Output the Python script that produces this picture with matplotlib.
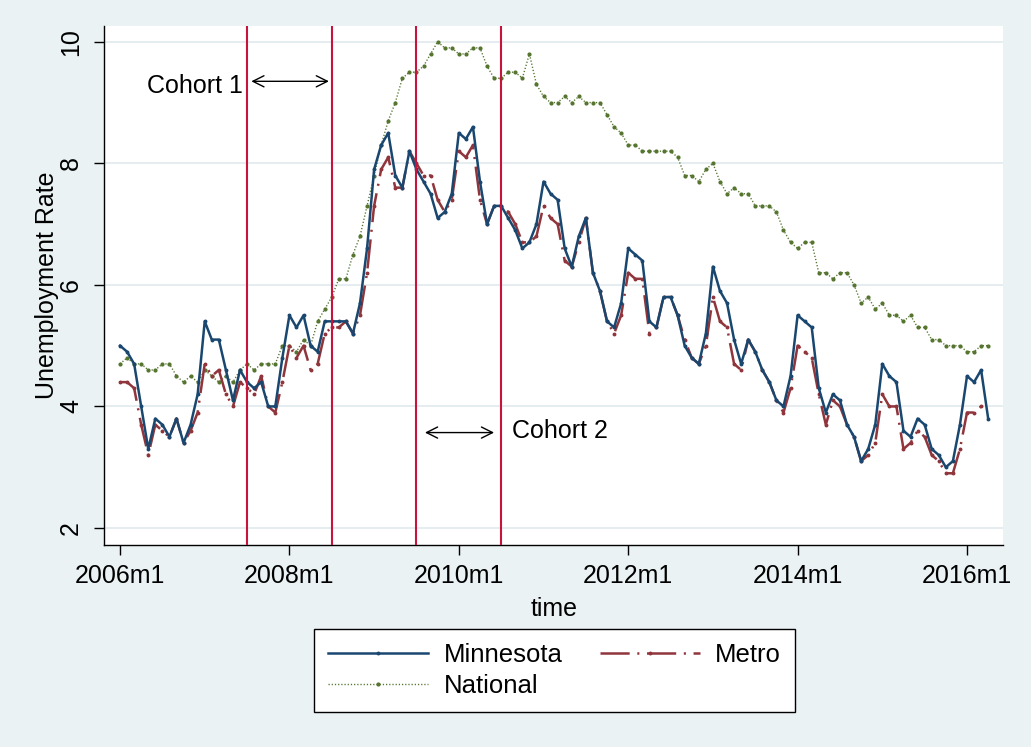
import numpy as np
import matplotlib
matplotlib.use("Agg")
import matplotlib.pyplot as plt
from matplotlib.lines import Line2D

# ---------------- data (monthly, starting 2006m1) ----------------
minnesota = [
    5.0, 4.9, 4.7, 4.0, 3.3, 3.8, 3.7, 3.5, 3.8, 3.4, 3.7, 4.2,
    5.4, 5.1, 5.1, 4.6, 4.1, 4.6, 4.4, 4.3, 4.4, 4.0, 4.0, 4.8,
    5.5, 5.3, 5.5, 5.0, 4.9, 5.4, 5.4, 5.4, 5.4, 5.2, 5.7, 6.6,
    7.9, 8.3, 8.5, 7.8, 7.6, 8.2, 7.9, 7.7, 7.5, 7.1, 7.2, 7.5,
    8.5, 8.4, 8.6, 7.7, 7.0, 7.3, 7.3, 7.1, 6.9, 6.6, 6.7, 7.0,
    7.7, 7.5, 7.4, 6.6, 6.3, 6.8, 7.1, 6.2, 5.9, 5.4, 5.3, 5.7,
    6.6, 6.5, 6.4, 5.4, 5.3, 5.8, 5.8, 5.5, 5.0, 4.8, 4.7, 5.2,
    6.3, 5.9, 5.7, 5.1, 4.7, 5.1, 4.9, 4.6, 4.4, 4.1, 4.0, 4.5,
    5.5, 5.4, 5.3, 4.3, 3.9, 4.2, 4.1, 3.7, 3.5, 3.1, 3.3, 3.7,
    4.7, 4.5, 4.4, 3.6, 3.5, 3.8, 3.7, 3.3, 3.2, 3.0, 3.1, 3.7,
    4.5, 4.4, 4.6, 3.8,
]
metro = [
    4.4, 4.4, 4.3, 3.7, 3.2, 3.7, 3.6, 3.5, 3.8, 3.4, 3.6, 3.9,
    4.7, 4.5, 4.6, 4.2, 4.0, 4.4, 4.3, 4.2, 4.5, 4.0, 3.9, 4.4,
    5.0, 4.8, 5.0, 4.6, 4.7, 5.2, 5.3, 5.3, 5.4, 5.2, 5.5, 6.2,
    7.3, 7.9, 8.1, 7.6, 7.6, 8.2, 8.0, 7.8, 7.8, 7.4, 7.2, 7.4,
    8.2, 8.1, 8.3, 7.4, 7.0, 7.3, 7.3, 7.2, 7.0, 6.7, 6.7, 6.8,
    7.3, 7.1, 7.0, 6.4, 6.3, 6.7, 7.1, 6.2, 5.9, 5.4, 5.2, 5.5,
    6.2, 6.1, 6.1, 5.2, 5.3, 5.8, 5.8, 5.5, 5.1, 4.8, 4.7, 5.0,
    5.8, 5.4, 5.3, 4.7, 4.6, 5.1, 4.9, 4.6, 4.4, 4.1, 3.9, 4.3,
    5.0, 4.9, 4.8, 4.2, 3.7, 4.1, 4.0, 3.7, 3.5, 3.1, 3.2, 3.4,
    4.2, 4.0, 4.0, 3.3, 3.4, 3.6, 3.5, 3.2, 3.1, 2.9, 2.9, 3.3,
    3.9, 3.9, 4.0, np.nan,
]
national = [
    4.7, 4.8, 4.7, 4.7, 4.6, 4.6, 4.7, 4.7, 4.5, 4.4, 4.5, 4.4,
    4.6, 4.5, 4.4, 4.5, 4.4, 4.6, 4.7, 4.6, 4.7, 4.7, 4.7, 5.0,
    5.0, 4.9, 5.1, 5.0, 5.4, 5.6, 5.8, 6.1, 6.1, 6.5, 6.8, 7.3,
    7.8, 8.3, 8.7, 9.0, 9.4, 9.5, 9.5, 9.6, 9.8, 10.0, 9.9, 9.9,
    9.8, 9.8, 9.9, 9.9, 9.6, 9.4, 9.4, 9.5, 9.5, 9.4, 9.8, 9.3,
    9.1, 9.0, 9.0, 9.1, 9.0, 9.1, 9.0, 9.0, 9.0, 8.8, 8.6, 8.5,
    8.3, 8.3, 8.2, 8.2, 8.2, 8.2, 8.2, 8.1, 7.8, 7.8, 7.7, 7.9,
    8.0, 7.7, 7.5, 7.6, 7.5, 7.5, 7.3, 7.3, 7.3, 7.2, 6.9, 6.7,
    6.6, 6.7, 6.7, 6.2, 6.2, 6.1, 6.2, 6.2, 6.0, 5.7, 5.8, 5.6,
    5.7, 5.5, 5.5, 5.4, 5.5, 5.3, 5.3, 5.1, 5.1, 5.0, 5.0, 5.0,
    4.9, 4.9, 5.0, 5.0,
]
start_year = 2006
tick_years = [2006, 2008, 2010, 2012, 2014, 2016]
y_ticks = [2, 4, 6, 8, 10]
cohort_line_months = ["2007m7", "2008m7", "2009m7", "2010m7"]


def month_index(label):
    y, m = label.split("m")
    return (int(y) - start_year) * 12 + int(m) - 1


t = np.arange(len(minnesota))

# ---------------- style ----------------
plt.rcParams["font.family"] = ["Liberation Sans", "DejaVu Sans"]
plt.rcParams["lines.scale_dashes"] = False
FS = 18
BG = "#eaf2f3"
C_MN = "#1a476f"
C_METRO = "#90353b"
C_NAT = "#55752f"
C_RED = "#c8143c"

fig = plt.figure(figsize=(10.31, 7.47), dpi=100, facecolor=BG)
ax = fig.add_axes([104 / 1031, 1 - 545 / 747, 899 / 1031, 519 / 747])
ax.set_facecolor("white")

for yt in y_ticks:
    ax.axhline(yt, color="#e3ecef", lw=1.3, zorder=0)

metro_ls = (0, (21, 5.5, 1.5, 5.5))
nat_ls = (0, (0.9, 1.4))

ax.plot(t, national, color=C_NAT, lw=1.0, ls=nat_ls, marker="o", ms=2.0,
        mec=C_NAT, mfc=C_NAT, zorder=3)
ax.plot(t, metro, color=C_METRO, lw=1.8, ls=metro_ls, marker="o", ms=1.8,
        mec=C_METRO, mfc=C_METRO, zorder=4)
ax.plot(t, minnesota, color=C_MN, lw=1.8, ls="-", marker="o", ms=1.8,
        mec=C_MN, mfc=C_MN, zorder=5)

for lab in cohort_line_months:
    ax.axvline(month_index(lab), color=C_RED, lw=1.5, zorder=6)

# cohort annotations
ax.annotate("", xy=(29.6, 9.35), xytext=(18.6, 9.35),
            arrowprops=dict(arrowstyle="<->", lw=1.0, color="black",
                            shrinkA=0, shrinkB=0, mutation_scale=20))
ax.text(17.4, 9.27, "Cohort 1", ha="right", va="center", fontsize=FS)
ax.annotate("", xy=(53.0, 3.57), xytext=(43.2, 3.57),
            arrowprops=dict(arrowstyle="<->", lw=1.0, color="black",
                            shrinkA=0, shrinkB=0, mutation_scale=20))
ax.text(55.5, 3.59, "Cohort 2", ha="left", va="center", fontsize=FS)

ax.set_xlim(-2.27, 125.1)
ax.set_ylim(1.72, 10.26)
ax.set_xticks([(y - start_year) * 12 for y in tick_years])
ax.set_xticklabels([f"{y}m1" for y in tick_years], fontsize=FS)
ax.set_yticks(y_ticks)
ax.set_yticklabels([str(v) for v in y_ticks], fontsize=FS, rotation=90,
                   va="center")
ax.tick_params(axis="both", length=7, width=1.0, color="black")
ax.tick_params(axis="x", pad=7)
ax.tick_params(axis="y", pad=8)

for s in ["top", "right"]:
    ax.spines[s].set_visible(False)
for s in ["left", "bottom"]:
    ax.spines[s].set_linewidth(1.0)

ax.set_xlabel("time", fontsize=FS)
ax.xaxis.set_label_coords(0.5005, -0.1)
ax.set_ylabel("Unemployment Rate", fontsize=FS)
ax.yaxis.set_label_coords(-0.05, 0.5)

handles = [
    Line2D([], [], color=C_MN, lw=1.8, marker="o", ms=1.8, markevery=[1]),
    Line2D([], [], color=C_NAT, lw=1.0, ls=nat_ls, marker="o", ms=2.0,
           markevery=[1]),
    Line2D([], [], color=C_METRO, lw=1.8, ls=metro_ls, marker="o", ms=1.8,
           markevery=[1]),
]
leg = fig.legend(handles, ["Minnesota", "National", "Metro"], ncol=2,
                 loc="center", bbox_to_anchor=(554.5 / 1031, 1 - 670.5 / 747),
                 prop={"size": 18.5}, frameon=True, fancybox=False,
                 edgecolor="black", framealpha=1, handlelength=3.9,
                 handletextpad=0.6, columnspacing=1.45, labelspacing=0.3,
                 borderpad=0.55, borderaxespad=0)
leg.get_frame().set_linewidth(1.0)

fig.savefig("out.png", dpi=100, facecolor=BG)
